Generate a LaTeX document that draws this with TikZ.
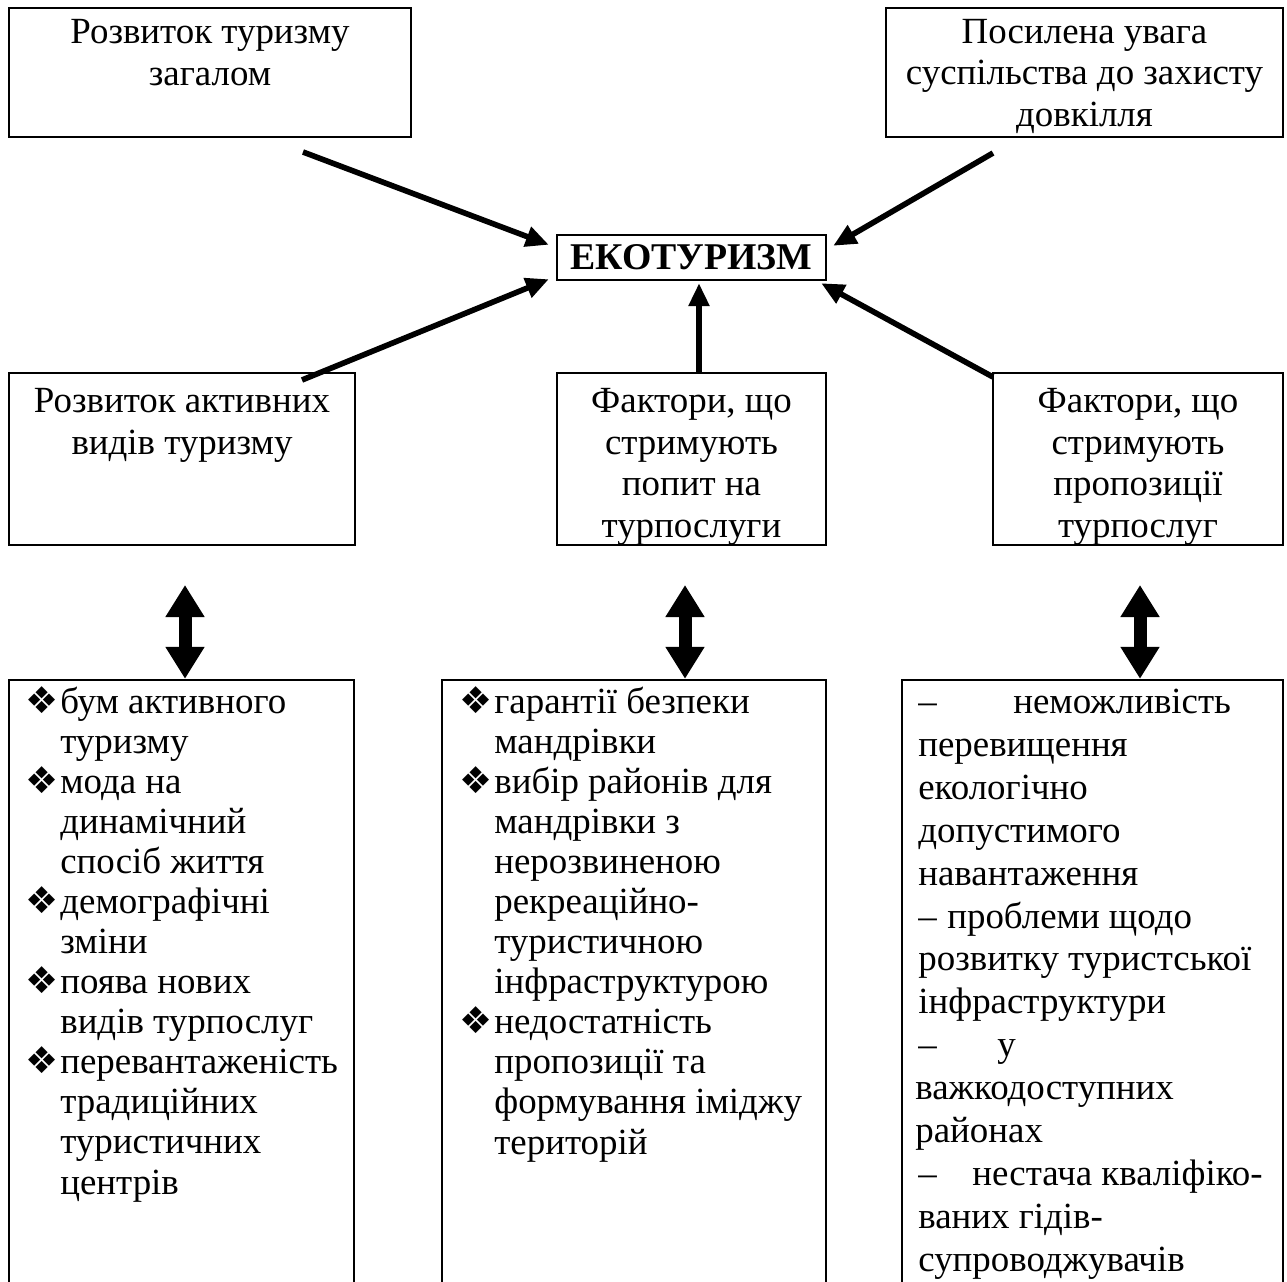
\documentclass[tikz,border=0pt]{standalone}
\usepackage{fontspec}
\setmainfont{Liberation Serif}
\newfontfamily\symfont{DejaVu Sans}
\usetikzlibrary{arrows.meta}

\newcommand{\itm}{\makebox[0.7cm][l]{\symfont\fontsize{21}{21}\selectfont ❖}}
\newcommand{\ind}{\hspace*{0.7cm}}

\begin{document}
\begin{tikzpicture}[x=0.02cm, y=-0.02cm,
	box/.style={draw, line width=1.4pt, inner sep=0pt},
	txt/.style={align=center, anchor=base, inner sep=0pt, font=\fontsize{21}{23.6}\selectfont},
	lst/.style={align=left, anchor=base west, inner sep=0pt},
	arr/.style={line width=3.2pt, -{Triangle[length=0.46cm, width=0.4cm]}},
	dbl/.style={line width=0.26cm, {Triangle[length=0.64cm, width=0.74cm]}-{Triangle[length=0.64cm, width=0.74cm]}}]
	\useasboundingbox (0,0) rectangle (1287,1281);
	
	% Boxes
	\node[box, minimum width=8.04cm, minimum height=2.58cm] (tl) at (210,72.5) {};
	\node[box, minimum width=7.94cm, minimum height=2.58cm] (tr) at (1084.5,72.5) {};
	\node[box, minimum width=5.38cm, minimum height=0.9cm, font=\fontsize{21.5}{23.6}\selectfont\bfseries] (eko) at (691.5,257.5) {ЕКОТУРИЗМ};
	\node[box, minimum width=6.92cm, minimum height=3.44cm] (ml) at (182,459) {};
	\node[box, minimum width=5.38cm, minimum height=3.44cm] (mc) at (691.5,459) {};
	\node[box, minimum width=5.8cm, minimum height=3.44cm] (mr) at (1138,459) {};
	\node[box, minimum width=6.9cm, minimum height=12.4cm] (bl) at (181.5,990) {};
	\node[box, minimum width=7.68cm, minimum height=12.4cm] (bc) at (634,990) {};
	\node[box, minimum width=7.62cm, minimum height=12.4cm] (br) at (1092.5,990) {};
	
	% titles (base = last line)
	\node[txt] (tl-t) at (210,85) {Розвиток туризму\\загалом};
	\node[txt] (tr-t) at (1084.5,126) {Посилена увага\\суспільства до захисту\\довкілля};
	\node[txt] (ml-t) at (182,454) {Розвиток активних\\видів туризму};
	\node[txt] (mc-t) at (691.5,537) {Фактори, що\\стримують\\попит на\\турпослуги};
	\node[txt] (mr-t) at (1138,537) {Фактори, що\\стримують\\пропозиції\\турпослуг};
	
	% lists (base = last line)
	\node[lst, font=\fontsize{21}{22.8}\selectfont] (bl-t) at (25,1194) {\itm бум активного\\ \ind туризму\\ \itm мода на\\ \ind динамічний\\ \ind спосіб життя\\ \itm демографічні\\ \ind зміни\\ \itm поява нових\\ \ind видів турпослуг\\ \itm перевантаженість\\ \ind традиційних\\ \ind туристичних\\ \ind центрів};
	\node[lst, font=\fontsize{21}{22.8}\selectfont] (bc-t) at (459,1154) {\itm гарантії безпеки\\ \ind мандрівки\\ \itm вибір районів для\\ \ind мандрівки з\\ \ind нерозвиненою\\ \ind рекреаційно-\\ \ind туристичною\\ \ind інфраструктурою\\ \itm недостатність\\ \ind пропозиції та\\ \ind формування іміджу\\ \ind територій};
	\node[lst, font=\fontsize{21}{24.4}\selectfont] (br-t) at (918,1271) {\makebox[1.9cm][l]{–}неможливість\\ перевищення\\ екологічно\\ допустимого\\ навантаження\\ \makebox[0.58cm][l]{–}проблеми щодо\\ розвитку туристської\\ інфраструктури\\ \makebox[1.58cm][l]{–}у\\ \hspace*{-0.06cm}важкодоступних\\ \hspace*{-0.06cm}районах\\ \makebox[1.08cm][l]{–}нестача кваліфіко-\\ ваних гідів-\\ супроводжувачів};
	
	% arrows to eko
	\coordinate (s1) at (303,152);
	\coordinate (s2) at (302,380);
	\coordinate (s4) at (993,153);
	\coordinate (s5) at (993,377);
	\draw[arr] (s1) -- ([xshift=-0.14cm, yshift=-0.22cm]eko.north west);
	\draw[arr] (s2) -- ([xshift=-0.14cm, yshift=0.04cm]eko.south west);
	\draw[arr] ([xshift=0.15cm]mc.north) -- ([xshift=0.15cm, yshift=-0.04cm]eko.south);
	\draw[arr] (s4) -- ([xshift=0.12cm, yshift=-0.24cm]eko.north east);
	\draw[arr] (s5) -- ([xshift=-0.12cm, yshift=-0.04cm]eko.south east);
	
	% double arrows
	\coordinate (d1) at (185,585);
	\coordinate (d2) at (685,585);
	\coordinate (d3) at (1140,585);
	\draw[dbl] (d1) -- (d1 |- bl.north);
	\draw[dbl] (d2) -- (d2 |- bc.north);
	\draw[dbl] (d3) -- (d3 |- br.north);
\end{tikzpicture}
\end{document}
